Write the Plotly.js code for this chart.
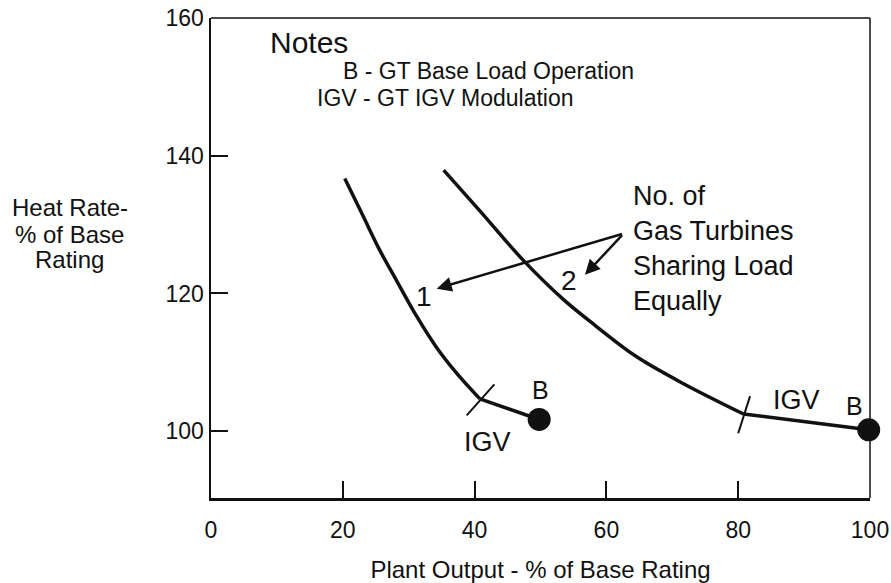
<!DOCTYPE html>
<html>
<head>
<meta charset="utf-8">
<script src="https://cdn.plot.ly/plotly-3.0.1.min.js"></script>
<style>html,body{margin:0;padding:0;background:#fff;}#chart{width:891px;height:583px;}</style>
</head>
<body>
<div id="chart"></div>
<script>
// One gas turbine: modulation part and IGV part
const curve1X = [20.3, 23.1, 25.6, 28.2, 31.2, 34.2, 37.3, 40.8];
const curve1Y = [136.7, 131.2, 126.3, 121.8, 116.7, 112.2, 108.4, 104.7];
const igv1X = [40.8, 49.8];
const igv1Y = [104.7, 101.7];
// Two gas turbines
const curve2X = [35.3, 40.8, 47.4, 53.5, 58.5, 64.6, 71.7, 80.8];
const curve2Y = [137.9, 132.0, 124.8, 119.1, 115.2, 110.8, 106.9, 102.5];
const igv2X = [80.8, 99.8];
const igv2Y = [102.5, 100.2];
// Base load points
const baseX = [49.8, 99.8];
const baseY = [101.7, 100.2];
// IGV break marks (short slanted strokes)
const break1X = [43.0, 38.8];
const break1Y = [106.8, 102.3];
const break2X = [81.8, 80.0];
const break2Y = [105.1, 99.7];
// Tick values
const xTicks = [0, 20, 40, 60, 80, 100];
const yTicks = [100, 120, 140, 160];

const ink = '#111';
const font = 'Liberation Sans, Arial, Helvetica, sans-serif';

const lineStyle = {color: ink, width: 3.5};
const traces = [
  {x: curve1X, y: curve1Y, mode: 'lines', line: Object.assign({shape: 'spline', smoothing: 1}, lineStyle), hoverinfo: 'skip'},
  {x: igv1X, y: igv1Y, mode: 'lines', line: lineStyle, hoverinfo: 'skip'},
  {x: curve2X, y: curve2Y, mode: 'lines', line: Object.assign({shape: 'spline', smoothing: 1}, lineStyle), hoverinfo: 'skip'},
  {x: igv2X, y: igv2Y, mode: 'lines', line: lineStyle, hoverinfo: 'skip'},
  {x: break1X, y: break1Y, mode: 'lines', line: {color: ink, width: 2}, hoverinfo: 'skip'},
  {x: break2X, y: break2Y, mode: 'lines', line: {color: ink, width: 2}, hoverinfo: 'skip'},
  {x: baseX, y: baseY, mode: 'markers', marker: {color: ink, size: 23}, cliponaxis: false, hoverinfo: 'skip'}
];

function txt(text, x, y, size, opts) {
  return Object.assign({text: text, x: x, y: y, xref: 'x', yref: 'y', showarrow: false,
    font: {family: font, size: size, color: ink}}, opts || {});
}
function ytitle(text, y) {
  return {text: text, xref: 'paper', yref: 'paper', x: -0.214, y: y,
    xanchor: 'center', yanchor: 'middle', showarrow: false,
    font: {family: font, size: 24, color: ink}};
}

const annotations = [
  txt('Notes', 8.65, 156.4, 30, {xanchor: 'left'}),
  txt('B - GT Base Load Operation', 19.7, 152.3, 23, {xanchor: 'left'}),
  txt('IGV - GT IGV Modulation', 15.8, 148.4, 23, {xanchor: 'left'}),
  txt('No. of<br>Gas Turbines<br>Sharing Load<br>Equally', 63.7, 126.5, 27, {xanchor: 'left', align: 'left'}),
  txt('1', 32.3, 119.5, 28),
  txt('2', 54.3, 121.9, 28),
  txt('IGV', 41.9, 98.4, 27),
  txt('B', 50.0, 106.0, 25),
  txt('IGV', 88.9, 104.6, 27),
  txt('B', 97.6, 103.7, 25),
  // arrows from the note to the two curves
  {x: 34.25, y: 120.7, ax: 62.6, ay: 128.7, xref: 'x', yref: 'y', axref: 'x', ayref: 'y', text: '',
   showarrow: true, arrowhead: 2, arrowsize: 1.2, arrowwidth: 2.5, arrowcolor: ink, standoff: 0},
  {x: 56.75, y: 122.7, ax: 62.6, ay: 128.7, xref: 'x', yref: 'y', axref: 'x', ayref: 'y', text: '',
   showarrow: true, arrowhead: 2, arrowsize: 1.2, arrowwidth: 2.5, arrowcolor: ink, standoff: 0},
  // y axis title, horizontal, three lines
  ytitle('Heat Rate-', 0.606),
  ytitle('% of Base', 0.548),
  ytitle('Rating', 0.496)
];

const layout = {
  width: 891, height: 583,
  margin: {l: 211, r: 21, t: 18, b: 85},
  paper_bgcolor: '#fff', plot_bgcolor: '#fff',
  showlegend: false,
  font: {family: font, color: ink},
  xaxis: {
    range: [0, 100], tickvals: xTicks, ticktext: xTicks.map(String),
    ticks: 'inside', ticklen: 17, tickwidth: 2, tickcolor: ink,
    showline: true, linewidth: 2.5, linecolor: ink, showgrid: false, zeroline: false,
    tickfont: {family: font, size: 23, color: ink}, ticklabelstandoff: 10,
    title: {text: 'Plant Output - % of Base Rating', font: {family: font, size: 24, color: ink}, standoff: 28}
  },
  yaxis: {
    range: [90.3, 160], tickvals: yTicks, ticktext: yTicks.map(String),
    ticks: 'inside', ticklen: 17, tickwidth: 2, tickcolor: ink,
    showline: true, linewidth: 2.5, linecolor: ink, showgrid: false, zeroline: false,
    tickfont: {family: font, size: 23, color: ink}, ticklabelstandoff: 0
  },
  shapes: [
    {type: 'line', xref: 'paper', yref: 'paper', x0: 0, x1: 1, y0: 1, y1: 1, line: {color: ink, width: 1.5}},
    {type: 'line', xref: 'paper', yref: 'paper', x0: 1, x1: 1, y0: 0, y1: 1, line: {color: ink, width: 1.5}}
  ],
  annotations: annotations
};

Plotly.newPlot('chart', traces, layout, {displayModeBar: false, staticPlot: true});
</script>
</body>
</html>
